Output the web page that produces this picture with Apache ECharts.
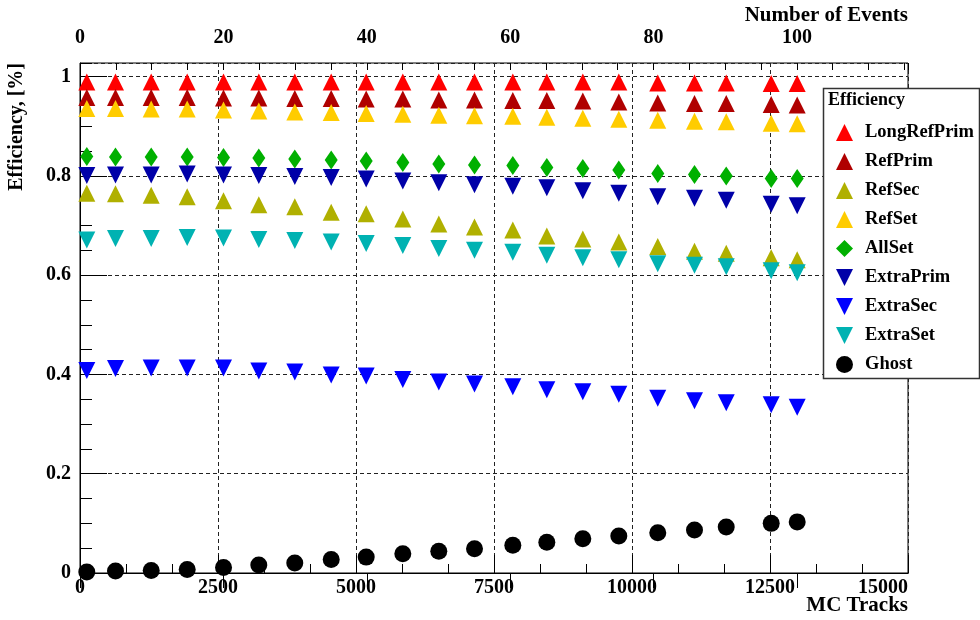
<!DOCTYPE html>
<html>
<head>
<meta charset="utf-8">
<script src="https://cdn.jsdelivr.net/npm/echarts@6/dist/echarts.min.js"></script>
<style>
  html, body { margin: 0; padding: 0; background: #fff; }
  #chart { width: 980px; height: 620px; }
</style>
</head>
<body>
<div id="chart"></div>
<script>
// MC track multiplicity of each measurement point (bottom axis)
const mcTracks = [123, 643, 1290, 1942, 2600, 3239, 3891, 4551, 5185, 5848, 6500,
                  7147, 7841, 8457, 9109, 9761, 10467, 11132, 11707, 12522, 12993];

// Efficiencies per track category
const longRefPrim = [0.989, 0.989, 0.989, 0.989, 0.989, 0.989, 0.989, 0.989, 0.989, 0.989, 0.989,
                     0.989, 0.989, 0.989, 0.989, 0.989, 0.987, 0.987, 0.987, 0.986, 0.986];
const refPrim = [0.958, 0.958, 0.958, 0.958, 0.957, 0.957, 0.956, 0.956, 0.955, 0.955, 0.953,
                 0.953, 0.952, 0.952, 0.951, 0.949, 0.947, 0.946, 0.946, 0.944, 0.943];
const refSec = [0.765, 0.764, 0.761, 0.758, 0.750, 0.742, 0.738, 0.727, 0.724, 0.713, 0.703,
                0.697, 0.691, 0.679, 0.673, 0.667, 0.658, 0.648, 0.644, 0.635, 0.631];
const refSet = [0.936, 0.936, 0.935, 0.935, 0.933, 0.931, 0.929, 0.928, 0.926, 0.924, 0.922,
                0.921, 0.920, 0.918, 0.916, 0.914, 0.912, 0.910, 0.909, 0.906, 0.905];
const allSet = [0.839, 0.838, 0.838, 0.838, 0.837, 0.836, 0.834, 0.832, 0.830, 0.827, 0.824,
                0.822, 0.821, 0.817, 0.815, 0.812, 0.805, 0.803, 0.800, 0.795, 0.795];
const extraPrim = [0.801, 0.802, 0.802, 0.804, 0.802, 0.801, 0.799, 0.797, 0.794, 0.790, 0.786,
                   0.782, 0.779, 0.776, 0.770, 0.765, 0.758, 0.755, 0.751, 0.743, 0.740];
const extraSec = [0.408, 0.412, 0.413, 0.413, 0.413, 0.407, 0.405, 0.399, 0.397, 0.390, 0.385,
                  0.381, 0.375, 0.369, 0.365, 0.360, 0.352, 0.347, 0.343, 0.339, 0.334];
const extraSet = [0.671, 0.674, 0.674, 0.676, 0.675, 0.672, 0.670, 0.667, 0.664, 0.660, 0.654,
                  0.650, 0.646, 0.640, 0.635, 0.631, 0.623, 0.620, 0.617, 0.609, 0.605];
const ghost = [0.002, 0.004, 0.005, 0.007, 0.011, 0.016, 0.020, 0.027, 0.032, 0.039, 0.044,
               0.049, 0.056, 0.062, 0.069, 0.0745, 0.081, 0.0866, 0.0926, 0.100, 0.103];

// Tick labels
const trackTicks = [0, 2500, 5000, 7500, 10000, 12500, 15000];
const eventTicks = [0, 20, 40, 60, 80, 100];
const effTicks = [0, 0.2, 0.4, 0.6, 0.8, 1];

// Axis ranges
const trackMax = 15000;
const eventMax = 115.5;
const effMax = 1.0275;

const FONT = '"Liberation Serif", "DejaVu Serif", serif';
const DOWN = 'path://M0,0 L20,0 L10,20 Z';

const seriesDefs = [
  { name: 'LongRefPrim', values: longRefPrim, color: '#ff0000', symbol: 'triangle', size: [17, 17] },
  { name: 'RefPrim',     values: refPrim,     color: '#b00000', symbol: 'triangle', size: [17, 17] },
  { name: 'RefSec',      values: refSec,      color: '#b0b000', symbol: 'triangle', size: [17, 17] },
  { name: 'RefSet',      values: refSet,      color: '#ffcc00', symbol: 'triangle', size: [17, 17] },
  { name: 'AllSet',      values: allSet,      color: '#00b000', symbol: 'diamond',  size: [13, 19] },
  { name: 'ExtraPrim',   values: extraPrim,   color: '#0000a8', symbol: DOWN,       size: [17, 17] },
  { name: 'ExtraSec',    values: extraSec,    color: '#0000ff', symbol: DOWN,       size: [17, 17] },
  { name: 'ExtraSet',    values: extraSet,    color: '#00b2b2', symbol: DOWN,       size: [17, 17] },
  { name: 'Ghost',       values: ghost,       color: '#000000', symbol: 'circle',   size: 17 }
];

const labelStyle = { fontFamily: FONT, fontWeight: 'bold', fontSize: 20, color: '#000' };
const dashed = { show: true, lineStyle: { color: '#222', width: 1, type: [4, 3] } };
const blackLine = { show: true, lineStyle: { color: '#000', width: 1 } };

const chart = echarts.init(document.getElementById('chart'), null, { renderer: 'canvas' });

chart.setOption({
  animation: false,
  backgroundColor: '#fff',
  grid: {
    left: 80, right: 72, top: 63, bottom: 47,
    show: true, borderColor: '#000', borderWidth: 1, backgroundColor: 'transparent'
  },
  xAxis: [
    {
      type: 'value', position: 'bottom', min: 0, max: trackMax,
      interval: trackTicks[1] - trackTicks[0],
      axisLine: blackLine,
      axisTick: { show: true, inside: true, length: 18, lineStyle: { color: '#000' } },
      minorTick: { show: true, splitNumber: 3, length: 9, lineStyle: { color: '#000' } },
      axisLabel: Object.assign({}, labelStyle, {
        margin: 5, alignMaxLabel: 'right',
        formatter: v => (trackTicks.indexOf(v) >= 0 ? String(v) : '')
      }),
      splitLine: dashed
    },
    {
      type: 'value', position: 'top', min: 0, max: eventMax,
      interval: eventTicks[1] - eventTicks[0],
      axisLine: blackLine,
      axisTick: { show: true, inside: true, length: 15, lineStyle: { color: '#000' } },
      axisLabel: Object.assign({}, labelStyle, {
        margin: 15, showMaxLabel: false,
        formatter: v => (eventTicks.indexOf(v) >= 0 ? String(v) : '')
      }),
      splitLine: { show: false }
    },
    {
      type: 'value', position: 'top', min: 0, max: eventMax, interval: 5,
      axisLine: { show: false },
      axisTick: { show: true, inside: true, length: 7, lineStyle: { color: '#000' } },
      axisLabel: { show: false },
      splitLine: { show: false }
    }
  ],
  yAxis: [
    {
      type: 'value', position: 'left', min: 0, max: effMax,
      interval: effTicks[1] - effTicks[0],
      axisLine: blackLine,
      axisTick: { show: true, inside: true, length: 27, lineStyle: { color: '#000' } },
      axisLabel: Object.assign({}, labelStyle, {
        margin: 9, showMaxLabel: false,
        formatter: v => {
          const t = effTicks.find(e => Math.abs(e - v) < 1e-9);
          return t === undefined ? '' : String(t);
        }
      }),
      splitLine: dashed
    },
    {
      type: 'value', position: 'left', min: 0, max: effMax, interval: 0.05,
      axisLine: { show: false },
      axisTick: { show: true, inside: true, length: 12, lineStyle: { color: '#000' } },
      axisLabel: { show: false },
      splitLine: { show: false }
    }
  ],
  legend: {
    orient: 'vertical',
    left: 836, top: 123,
    padding: 0, z: 10,
    itemWidth: 17, itemHeight: 17, itemGap: 10,
    textStyle: { fontFamily: FONT, fontWeight: 'bold', fontSize: 18.5, color: '#000',
                 padding: [0, 0, 0, 7] },
    data: seriesDefs.map(d => d.name)
  },
  graphic: [
    {
      type: 'rect', z: 8, silent: true,
      shape: { x: 823.5, y: 88.5, width: 156, height: 290 },
      style: { fill: '#fff', stroke: '#333', lineWidth: 1.5 }
    },
    {
      type: 'text', z: 9, left: 828, top: 91,
      style: { text: 'Efficiency', fontFamily: FONT, fontWeight: 'bold', fontSize: 18, fill: '#000' }
    },
    {
      type: 'text', z: 9, right: 72, top: 5,
      style: { text: 'Number of Events', fontFamily: FONT, fontWeight: 'bold', fontSize: 21, fill: '#000' }
    },
    {
      type: 'text', z: 9, right: 72, top: 595,
      style: { text: 'MC Tracks', fontFamily: FONT, fontWeight: 'bold', fontSize: 21, fill: '#000' }
    },
    {
      type: 'text', z: 9, x: 7, y: 63, rotation: Math.PI / 2,
      style: { text: 'Efficiency, [%]', fontFamily: FONT, fontWeight: 'bold', fontSize: 20, fill: '#000',
               align: 'right', verticalAlign: 'top' }
    }
  ],
  series: seriesDefs.map(d => ({
    name: d.name,
    type: 'scatter',
    xAxisIndex: 0,
    yAxisIndex: 0,
    symbol: d.symbol,
    symbolSize: d.size,
    itemStyle: { color: d.color, opacity: 1 },
    emphasis: { disabled: true },
    data: mcTracks.map((x, i) => [x, d.values[i]])
  }))
});
</script>
</body>
</html>
